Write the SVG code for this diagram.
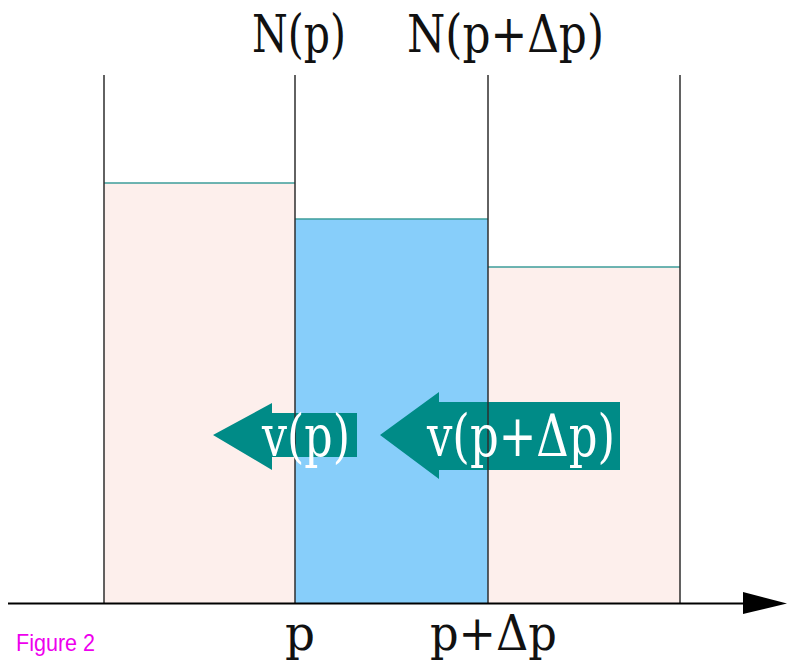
<svg xmlns="http://www.w3.org/2000/svg" width="788" height="663" viewBox="0 0 788 663">
<style>
.bar{stroke:none}
.pink{fill:#fdefec}
.blue{fill:#87cefa}
.top{stroke:#3c9c9a;stroke-width:1.5}
.wall{stroke:#2e2e2e;stroke-width:1.5}
.arrow{fill:#008b87}
.lab{font-family:"DejaVu Serif","Liberation Serif",serif;fill:#111}
.vlab{font-family:"DejaVu Serif","Liberation Serif",serif;fill:#ffffff}
</style>
<rect width="788" height="663" fill="#ffffff"/>
<g id="bar-left"><rect class="bar pink" x="104" y="183" width="191" height="420"/><line class="top" x1="104" y1="183" x2="295" y2="183"/></g>
<g id="bar-middle"><rect class="bar blue" x="295" y="219" width="193" height="384"/><line class="top" x1="295" y1="219" x2="488" y2="219"/></g>
<g id="bar-right"><rect class="bar pink" x="488" y="267" width="192" height="336"/><line class="top" x1="488" y1="267" x2="680" y2="267"/></g>
<g id="arrow-vp"><polygon class="arrow" points="213,435 272,403 272,413 357,413 357,457 272,457 272,470"/></g>
<g id="arrow-vpdp"><polygon class="arrow" points="380,435 439,392 439,402 620,402 620,470 439,470 439,479"/></g>
<g id="connectors">
<line class="wall" x1="104" y1="75" x2="104" y2="603"/>
<line class="wall" x1="295" y1="75" x2="295" y2="603"/>
<line class="wall" x1="488" y1="75" x2="488" y2="603"/>
<line class="wall" x1="680" y1="75" x2="680" y2="603"/>
<line x1="8" y1="603.5" x2="746" y2="603.5" stroke="#000" stroke-width="2"/>
<polygon points="743,592 787,603.5 743,614" fill="#000"/>
</g>
<g id="labels">
<text class="lab" x="252" y="52" font-size="52" textLength="94" lengthAdjust="spacingAndGlyphs">N(p)</text>
<text class="lab" x="407" y="52" font-size="52" textLength="197" lengthAdjust="spacingAndGlyphs">N(p+Δp)</text>
<text class="vlab" x="262" y="456" font-size="57" textLength="88" lengthAdjust="spacingAndGlyphs">v(p)</text>
<text class="vlab" x="427" y="456" font-size="57" textLength="188" lengthAdjust="spacingAndGlyphs">v(p+Δp)</text>
<text class="lab" x="285" y="650" font-size="48" textLength="30" lengthAdjust="spacingAndGlyphs">p</text>
<text class="lab" x="430" y="650" font-size="48" textLength="127" lengthAdjust="spacingAndGlyphs">p+Δp</text>
<text x="16" y="651" font-family="Liberation Sans, Arial, sans-serif" font-size="24" fill="#ee00ee" textLength="79" lengthAdjust="spacingAndGlyphs">Figure 2</text>
</g>
</svg>
